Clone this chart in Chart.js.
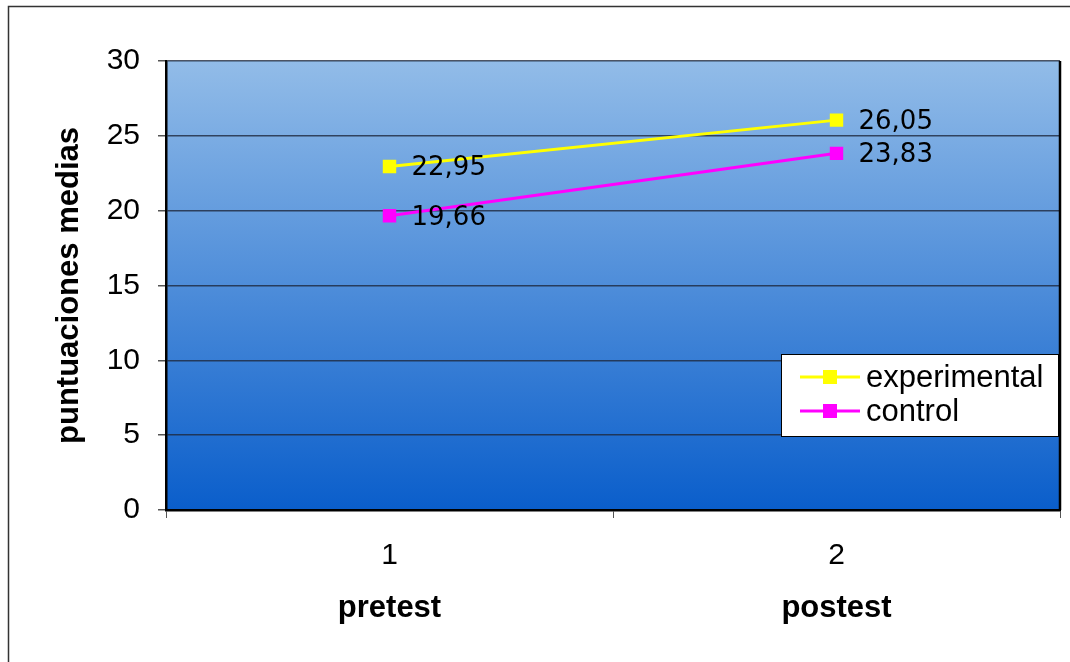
<!DOCTYPE html>
<html>
<head>
<meta charset="utf-8">
<script src="https://cdn.jsdelivr.net/npm/chart.js@4"></script>
<style>
  html, body { margin: 0; padding: 0; background: #fff; }
  #wrap { width: 1070px; height: 662px; position: relative; }
</style>
</head>
<body>
<div id="wrap"><canvas id="chart"></canvas></div>
<script>
// Data
const categories = ['1', '2'];
const phases = ['pretest', 'postest'];
const seriesNames = ['experimental', 'control'];
const experimental = [22.95, 26.05];
const control = [19.66, 23.83];
const yTicks = [0, 5, 10, 15, 20, 25, 30];

const FONT = "'Liberation Sans', Arial, sans-serif";

// gradient background + outer frame
const backdrop = {
    id: 'backdrop',
    beforeDraw(chart) {
        const { ctx, chartArea: a } = chart;
        ctx.save();
        ctx.strokeStyle = '#333';
        ctx.lineWidth = 1.5;
        ctx.strokeRect(8.5, 6.5, 1200, 800);
        const g = ctx.createLinearGradient(0, a.top, 0, a.bottom);
        g.addColorStop(0, '#92bce8');
        g.addColorStop(1, '#0a5ecb');
        ctx.fillStyle = g;
        ctx.fillRect(a.left, a.top, a.right - a.left, a.bottom - a.top);
        ctx.restore();
    },
    afterDatasetsDraw(chart) {
        const { ctx, chartArea: a } = chart;
        ctx.save();
        ctx.strokeStyle = '#000';
        ctx.lineWidth = 2.5;
        ctx.beginPath();
        ctx.moveTo(a.right, a.top);
        ctx.lineTo(a.right, a.bottom);
        ctx.stroke();
        ctx.restore();
    }
};

// value labels right of each point
const valueLabels = {
    id: 'valueLabels',
    afterDatasetsDraw(chart) {
        const { ctx } = chart;
        ctx.save();
        ctx.font = "26px 'DejaVu Sans', Verdana, sans-serif";
        ctx.fillStyle = '#000';
        ctx.textAlign = 'left';
        ctx.textBaseline = 'middle';
        chart.data.datasets.forEach((ds, i) => {
            chart.getDatasetMeta(i).data.forEach((pt, j) => {
                const txt = ds.data[j].toFixed(2).replace('.', ',');
                ctx.fillText(txt, pt.x + 22, pt.y + 2);
            });
        });
        ctx.restore();
    }
};

// legend box inside the plot area
const innerLegend = {
    id: 'innerLegend',
    afterDraw(chart) {
        const { ctx, chartArea: a } = chart;
        const left = a.right - 279, top = a.top + 293, w = 277, h = 82;
        ctx.save();
        ctx.fillStyle = '#fff';
        ctx.fillRect(left, top, w, h);
        ctx.strokeStyle = '#000';
        ctx.lineWidth = 1;
        ctx.strokeRect(left + 0.5, top + 0.5, w, h);
        ctx.font = '31px ' + FONT;
        ctx.textBaseline = 'middle';
        chart.data.datasets.forEach((ds, i) => {
            const y = top + 23 + i * 34;
            ctx.strokeStyle = ds.borderColor;
            ctx.lineWidth = 3;
            ctx.beginPath();
            ctx.moveTo(left + 19, y);
            ctx.lineTo(left + 79, y);
            ctx.stroke();
            ctx.fillStyle = ds.borderColor;
            ctx.fillRect(left + 42, y - 7, 14, 14);
            ctx.fillStyle = '#000';
            ctx.fillText(ds.label, left + 85, y + 1);
        });
        ctx.restore();
    }
};

new Chart(document.getElementById('chart'), {
    type: 'line',
    data: {
        labels: categories,
        datasets: [
            {
                label: seriesNames[0],
                data: experimental,
                borderColor: '#ffff00',
                backgroundColor: '#ffff00',
                borderWidth: 3,
                pointStyle: 'rect',
                pointRadius: 9.5,
                pointBorderWidth: 0,
                tension: 0
            },
            {
                label: seriesNames[1],
                data: control,
                borderColor: '#ff00ff',
                backgroundColor: '#ff00ff',
                borderWidth: 3,
                pointStyle: 'rect',
                pointRadius: 9.5,
                pointBorderWidth: 0,
                tension: 0
            }
        ]
    },
    options: {
        responsive: true,
        maintainAspectRatio: false,
        animation: false,
        events: [],
        layout: { padding: { left: 0, top: 61, right: 10, bottom: 0 } },
        plugins: {
            legend: { display: false },
            tooltip: { enabled: false }
        },
        scales: {
            x: {
                type: 'category',
                offset: true,
                grid: {
                    offset: true,
                    drawOnChartArea: false,
                    drawTicks: true,
                    tickLength: 8,
                    color: '#555'
                },
                border: { color: '#000', width: 2.5 },
                ticks: { color: '#000', font: { family: FONT, size: 30, lineHeight: 1 }, padding: 23 },
                afterFit(scale) { scale.height = 60; }
            },
            x2: {
                type: 'category',
                labels: phases,
                position: 'bottom',
                offset: true,
                grid: { display: false, drawTicks: false },
                border: { display: false },
                ticks: { color: '#000', font: { family: FONT, size: 31, weight: 'bold', lineHeight: 1 }, padding: 23 },
                afterFit(scale) { scale.height = 92; }
            },
            y: {
                min: 0,
                max: 30,
                afterBuildTicks(scale) { scale.ticks = yTicks.map(v => ({ value: v })); },
                grid: {
                    color: 'rgba(30,40,60,0.8)',
                    lineWidth: 1.5,
                    tickLength: 8,
                    tickColor: '#555'
                },
                border: { color: '#000', width: 2.5 },
                ticks: { color: '#000', font: { family: FONT, size: 30 }, padding: 18 },
                title: {
                    display: true,
                    text: 'puntuaciones medias',
                    color: '#000',
                    font: { family: FONT, size: 31, weight: 'bold', lineHeight: 1 },
                    padding: { top: 54, bottom: 0 }
                },
                afterFit(scale) { scale.width = 166; }
            }
        }
    },
    plugins: [backdrop, valueLabels, innerLegend]
});
</script>
</body>
</html>
